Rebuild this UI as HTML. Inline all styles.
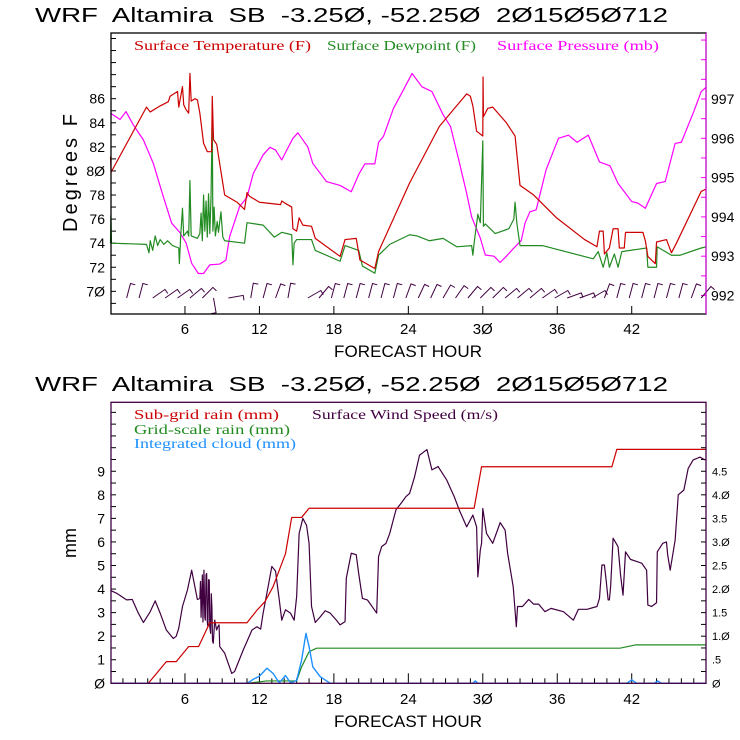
<!DOCTYPE html>
<html><head><meta charset="utf-8"><style>
html,body{margin:0;padding:0;background:#fff}
svg{display:block}
text{font-family:"Liberation Sans",sans-serif}
.lg{font-family:"Liberation Serif",serif;font-size:14px}
.ttl{white-space:pre}
</style></head><body>
<svg id="chart" width="740" height="740" viewBox="0 0 740 740" xmlns="http://www.w3.org/2000/svg" xml:space="preserve">
<rect width="740" height="740" fill="#fff"/>
<text class="ttl" x="35" y="22" font-size="20" textLength="633" lengthAdjust="spacingAndGlyphs">WRF  Altamira  SB  -3.25Ø, -52.25Ø  2Ø15Ø5Ø712</text>
<text class="ttl" x="35" y="391" font-size="20" textLength="633" lengthAdjust="spacingAndGlyphs">WRF  Altamira  SB  -3.25Ø, -52.25Ø  2Ø15Ø5Ø712</text>
<text transform="translate(77,173) rotate(-90)" text-anchor="middle" font-size="20" textLength="118" lengthAdjust="spacing">Degrees F</text>
<text transform="translate(76,543) rotate(-90)" text-anchor="middle" font-size="18">mm</text>
<text x="408" y="357" text-anchor="middle" font-size="17" textLength="148" lengthAdjust="spacing">FORECAST HOUR</text>
<text x="408" y="727" text-anchor="middle" font-size="17" textLength="148" lengthAdjust="spacing">FORECAST HOUR</text>
<text class="lg" x="134" y="50" fill="#cc0000" textLength="177" lengthAdjust="spacingAndGlyphs">Surface Temperature (F)</text>
<text class="lg" x="327" y="50" fill="#228b22" textLength="149" lengthAdjust="spacingAndGlyphs">Surface Dewpoint (F)</text>
<text class="lg" x="497" y="50" fill="#ff00ff" textLength="162" lengthAdjust="spacingAndGlyphs">Surface Pressure (mb)</text>
<text class="lg" x="134" y="419" fill="#cc0000" textLength="145" lengthAdjust="spacingAndGlyphs">Sub-grid rain (mm)</text>
<text class="lg" x="134" y="434" fill="#228b22" textLength="156" lengthAdjust="spacingAndGlyphs">Grid-scale rain (mm)</text>
<text class="lg" x="134" y="448" fill="#1e90ff" textLength="162" lengthAdjust="spacingAndGlyphs">Integrated cloud (mm)</text>
<text class="lg" x="312" y="419" fill="#400040" textLength="186" lengthAdjust="spacingAndGlyphs">Surface Wind Speed (m/s)</text>
<g id="g"></g>
</svg>
<script>
const hourTicks=[6,12,18,24,30,36,42];
const tempTicks=[70,72,74,76,78,80,82,84,86];
const presTicks=[992,993,994,995,996,997];
const mmTicks=[0,1,2,3,4,5,6,7,8,9];
const windTicks=[0,0.5,1.0,1.5,2.0,2.5,3.0,3.5,4.0,4.5];
const windTickLabels=['Ø','.5','1.Ø','1.5','2.Ø','2.5','3.Ø','3.5','4.Ø','4.5'];
const temperature=[[0,81.2],[0.05,79.9],[2.9,85.3],[3.2,84.9],[4.0,85.4],[4.66,85.75],[4.8,86.2],[5.4,86.6],[5.5,85.3],[5.8,87.0],[5.9,85.5],[6.08,85.1],[6.3,84.8],[6.4,88.1],[6.5,85.8],[6.8,86],[7.0,85.9],[7.2,84.8],[7.5,82.3],[7.8,81.6],[8.15,81.6],[8.2,86.2],[8.3,82.6],[8.56,82.2],[8.8,80.6],[9.2,78],[10.2,77.4],[10.8,76.8],[11.0,78.2],[11.2,77.9],[12.0,77.4],[13.7,77.2],[13.8,77.5],[14.1,77.3],[14.6,77.0],[14.7,75.2],[15.0,75],[15.2,76.1],[15.5,75.5],[16.2,75.4],[16.5,74.4],[18.5,72.9],[18.9,74.3],[19.8,74.4],[20.1,72.6],[21.3,71.9],[21.6,73.3],[24.1,79.0],[26.5,83.7],[28.7,86.4],[29.0,86.2],[29.2,85.4],[29.5,83.3],[30.0,82.9],[30.02,87.8],[30.05,84.5],[30.4,85.2],[30.8,85.3],[31.9,84],[32.6,82.9],[33.0,78.8],[34.1,78],[35.95,76.1],[38.2,74.3],[39.2,73.7],[39.4,75],[39.7,75],[39.8,73.1],[40.2,73.6],[40.5,75.2],[40.9,75.2],[41.0,73.6],[41.4,73.6],[41.5,74.9],[42.9,74.9],[43.1,74.2],[43.3,72.9],[43.9,72.3],[44.0,74.1],[44.8,74.3],[45.2,73.2],[45.6,74.0],[47.6,78.3],[48,78.5]];
const dewpoint=[[0,74.0],[0.03,76.3],[0.08,74.0],[2.9,73.9],[3.1,73.2],[3.2,74.2],[3.4,73.4],[3.6,74.6],[3.8,73.8],[4.0,74.3],[4.3,73.9],[4.6,74.2],[5.0,73.8],[5.5,73.6],[5.55,72.3],[5.65,74.5],[5.8,76.9],[5.9,74.6],[6.2,75.0],[6.3,74.6],[6.4,79.2],[6.5,74.6],[7.0,74.4],[7.2,74.8],[7.3,76.5],[7.4,74.2],[7.5,78.0],[7.6,75.0],[7.7,77.5],[7.8,74.5],[7.9,78.1],[8.0,74.8],[8.1,77.8],[8.2,84.6],[8.25,75.0],[8.35,77.0],[8.45,74.6],[8.6,75.8],[8.7,74.9],[8.9,76.6],[9.05,74.5],[9.2,74.2],[10.8,74.0],[11.0,75.7],[12.3,75.5],[13.2,74.5],[13.8,74.9],[14.6,74.7],[14.7,72.2],[14.8,74.0],[15.0,74.3],[16.2,74.3],[16.5,73.4],[18.5,72.5],[18.9,73.8],[20.0,73.4],[20.3,72.1],[21.3,71.5],[21.6,73.0],[22.5,73.9],[24.1,74.7],[24.7,74.6],[25.7,74.2],[26.8,74.4],[27.9,73.7],[29.1,73.8],[29.2,73.0],[29.3,74.0],[29.6,76.4],[29.8,75.7],[30.0,82.5],[30.05,75.4],[30.2,75.6],[31.0,74.8],[32.1,75.2],[32.5,76.0],[32.6,77.4],[32.75,75.6],[33.0,73.8],[34.8,73.8],[38.9,72.7],[39.3,73.3],[39.7,72.0],[40.0,73.2],[40.2,72.0],[40.6,73.1],[40.9,72.0],[41.2,73.3],[43.2,73.6],[43.3,72.0],[44.0,72.0],[44.05,73.7],[45.2,73.0],[45.9,73.0],[47.6,73.6],[48,73.7]];
const pressure=[[0,996.64],[0.77,996.48],[1.25,996.68],[1.84,996.34],[2.65,995.96],[3.45,995.36],[4.26,994.51],[4.93,993.84],[5.6,993.6],[6.1,993.33],[6.54,992.82],[7.08,992.56],[7.5,992.56],[8.0,992.78],[8.8,992.8],[9.3,992.9],[9.6,993.5],[10.4,994.26],[11.0,994.5],[11.5,995.1],[12.3,995.58],[12.85,995.77],[13.3,995.7],[13.8,995.45],[14.2,995.7],[14.7,996.0],[15.1,996.14],[15.9,995.78],[16.3,995.36],[17.4,994.9],[18.5,994.8],[19.4,994.64],[20.0,995.08],[20.5,995.35],[21.3,995.35],[21.6,995.9],[22.0,996.05],[22.8,996.76],[23.6,997.23],[24.3,997.65],[25.1,997.31],[25.9,997.19],[26.8,996.6],[27.4,996.3],[28.0,995.53],[28.7,994.6],[29.1,994.0],[29.8,993.46],[30.2,993.03],[30.9,993.0],[31.4,992.84],[31.9,993.0],[32.6,993.24],[33.1,993.4],[33.4,993.84],[33.8,994.13],[34.3,994.18],[35.1,995.2],[36.1,996.0],[36.9,996.08],[37.6,995.9],[38.5,996.08],[39.4,995.4],[40.25,995.3],[40.9,994.85],[42.0,994.39],[42.5,994.35],[43.1,994.22],[44.0,994.85],[44.7,994.9],[45.5,995.87],[46.0,995.9],[47.0,996.68],[47.6,997.19],[48,997.3]];
const barbHours=[1.3,2.3,3.4,4.4,5.4,6.4,7.4,8.3,9.5,11.3,12.3,13.3,14.3,15.9,16.8,17.8,18.8,19.8,20.8,21.8,22.8,23.8,24.8,25.8,26.8,27.8,28.8,29.8,30.8,31.8,32.8,33.8,34.8,35.8,36.8,37.8,38.8,39.8,40.8,41.8,42.8,43.8,44.8,45.8,46.8,47.6];
const barbAngles=[15,15,55,55,55,50,45,170,80,10,15,20,10,60,40,15,15,15,15,15,15,20,25,25,30,35,40,45,45,50,50,50,55,60,70,70,60,20,15,15,15,15,15,15,20,40];
const subgridRain=[[0,0],[3.05,0],[4.5,0.92],[5.3,0.92],[6.3,1.56],[7.1,1.56],[8.0,2.57],[11.0,2.57],[11.8,3.1],[12.45,3.47],[13.1,4.1],[14.1,5.5],[14.6,7.04],[15.4,7.04],[16.0,7.43],[29.3,7.43],[29.9,9.19],[40.4,9.19],[40.8,9.93],[48,9.93]];
const gridRain=[[0,0],[11,0],[12.6,0.1],[15,0.1],[15.4,0.7],[16,1.34],[16.6,1.49],[41.05,1.49],[42.3,1.63],[48,1.63]];
const cloud=[[0,0],[11,0],[11.5,0.17],[12.0,0.3],[12.6,0.64],[13.1,0.42],[13.6,0.02],[14.1,0.33],[14.5,0.02],[15.0,0.12],[15.4,0.99],[15.75,2.12],[16.0,1.56],[16.3,0.7],[16.9,0.28],[17.7,0],[29.2,0],[29.4,0.1],[29.6,0],[41.6,0],[42.0,0.15],[42.4,0],[43.8,0],[44.1,0.1],[44.4,0],[48,0]];
const windSpeed=[[0,1.97],[0.5,1.91],[1.3,1.77],[1.75,1.78],[2.24,1.49],[2.65,1.29],[3.2,1.52],[3.6,1.75],[4.0,1.49],[4.5,1.13],[5.06,0.95],[5.3,1.0],[5.5,1.17],[5.8,1.63],[6.2,1.98],[6.54,2.4],[6.8,2.05],[7.0,1.78],[7.2,1.8],[7.25,2.16],[7.3,1.4],[7.4,2.3],[7.45,1.3],[7.53,2.4],[7.6,1.4],[7.64,1.34],[7.7,2.3],[7.75,2.33],[7.8,1.3],[7.85,1.2],[7.9,2.2],[7.96,2.19],[8.0,1.2],[8.07,1.06],[8.12,1.9],[8.17,1.63],[8.22,0.9],[8.28,0.85],[8.4,1.34],[8.55,1.13],[8.65,1.2],[8.75,1.24],[8.8,0.78],[9.2,0.64],[9.77,0.21],[10.0,0.25],[10.7,0.71],[11.4,1.13],[11.8,1.2],[12.1,1.15],[12.3,1.49],[12.7,2.05],[13.0,2.48],[13.3,2.38],[13.6,1.77],[13.8,1.34],[14.1,1.56],[14.5,1.49],[14.8,1.34],[15.0,1.84],[15.2,3.18],[15.5,3.5],[15.8,3.35],[16.0,2.97],[16.2,1.63],[16.5,1.29],[16.9,1.41],[17.3,1.54],[17.7,1.49],[18.2,1.34],[18.5,1.24],[18.9,1.31],[19.0,2.23],[19.4,2.76],[19.8,2.73],[20.0,2.33],[20.3,1.8],[20.7,1.77],[21.45,1.49],[21.6,2.69],[21.85,2.9],[22.2,2.97],[22.5,3.18],[23.0,3.68],[23.5,3.85],[23.8,3.96],[24.1,4.03],[24.5,4.38],[24.9,4.84],[25.5,4.96],[25.9,4.53],[26.4,4.6],[27.1,4.31],[27.7,3.96],[28.1,3.68],[28.7,3.32],[29.2,3.57],[29.5,3.32],[29.6,2.26],[29.8,2.83],[29.9,2.97],[30.0,3.71],[30.3,3.18],[30.8,2.97],[31.4,3.41],[31.8,3.25],[32.0,2.76],[32.45,2.05],[32.7,1.2],[32.8,1.63],[33.2,1.63],[33.7,1.78],[34.1,1.68],[34.5,1.68],[35.0,1.52],[35.5,1.59],[36.5,1.52],[37.3,1.34],[37.7,1.57],[38.4,1.57],[39.2,1.63],[39.4,1.8],[39.6,2.51],[39.8,2.51],[39.95,2.16],[40.1,1.77],[40.2,1.77],[40.3,2.05],[40.5,3.08],[40.9,2.9],[41.1,2.3],[41.3,1.87],[41.5,2.79],[41.9,2.63],[42.8,2.55],[43.2,2.4],[43.3,1.66],[43.6,1.63],[44.0,1.71],[44.06,2.79],[44.5,2.97],[44.8,3.0],[44.9,2.72],[45.1,2.4],[45.5,3.04],[45.75,4.0],[46.2,4.1],[46.55,4.56],[46.95,4.74],[47.5,4.8],[47.9,4.74]];

const NS='http://www.w3.org/2000/svg';
const G=document.getElementById('g');
const X0=111,X1=706;
const xs=h=>110.5+h*12.41;
const yT=v=>98.7+(86-v)*12.04;
const yP=v=>99+(997-v)*39.3;
const B0=683.3;
const yM=v=>B0-v*23.56;
const yW=v=>B0-v*47.12;
function el(tag,attrs){const e=document.createElementNS(NS,tag);for(const k in attrs)e.setAttribute(k,attrs[k]);G.appendChild(e);return e;}
function series(data,yf,color,name,w){
  const p=el('polyline',{points:data.map(d=>xs(d[0]).toFixed(2)+','+yf(d[1]).toFixed(2)).join(' '),fill:'none',stroke:color,'stroke-width':w||1.2,'stroke-linejoin':'round'});
  
  
}
function txt(x,y,s,anchor,size,name,fill){const t=el('text',{x:x,y:y,'text-anchor':anchor,'font-size':size,fill:fill||'#000'});t.textContent=s;
  
  }
function line(x1,y1,x2,y2,c,name){const l=el('line',{x1:x1,y1:y1,x2:x2,y2:y2,stroke:c,'stroke-width':1});
  
  }

// ---------- top panel ----------
const TT=33,TB=314;
for(let v=69;v<=91;v++){line(X0,yT(v),X0+5,yT(v),'#000','y-tick');}
tempTicks.forEach(v=>txt(105,yT(v)+5,String(v).replace(/0/g,'Ø'),'end',14,'y-tick-label'));
for(let v=991.5;v<=998.5;v+=0.5){if(yP(v)>TT&&yP(v)<TB)line(X1-5,yP(v),X1,yP(v),'#ff00ff','y2-tick');}
presTicks.forEach(v=>txt(711,yP(v)+5,String(v),'start',14,'y2-tick-label'));
hourTicks.forEach(h=>{line(xs(h),TB,xs(h),TB-8,'#000','x-tick');txt(xs(h),334,String(h).replace(/0/g,'Ø'),'middle',15,'x-tick-label');});
series(pressure,yP,'#ff00ff','pressure-line');
series(dewpoint,yT,'#228b22','dewpoint-line');
series(temperature,yT,'#cc0000','temperature-line');
barbHours.forEach((h,i)=>{
  const a=barbAngles[i]*Math.PI/180;const bx=xs(h),by=298,L=15;
  const tx=bx+Math.sin(a)*L,ty=by-Math.cos(a)*L;
  const p=el('polyline',{points:`${bx},${by} ${tx.toFixed(1)},${ty.toFixed(1)} ${(tx+Math.cos(a)*5).toFixed(1)},${(ty+Math.sin(a)*5).toFixed(1)}`,fill:'none',stroke:'#400040','stroke-width':1});
  
  
});
const r1=el('rect',{x:X0,y:TT,width:X1-X0,height:TB-TT,fill:'none',stroke:'#000','stroke-width':1.3});


line(X1,TT,X1,TB,'#ff00ff','right-axis-line');

// ---------- bottom panel ----------
const BT=402.3;
for(let v=0;v<=11.9;v+=0.5){line(X0,yM(v),X0+5,yM(v),'#000','y-tick');}
mmTicks.forEach(v=>txt(105,yM(v)+5,String(v).replace(/0/g,'Ø'),'end',14,'y-tick-label'));
for(let v=0;v<=5.9;v+=0.25){line(X1-5,yW(v),X1,yW(v),'#000','y2-tick');}
windTicks.forEach((v,i)=>txt(712,yW(v)+4,windTickLabels[i],'start',11,'y2-tick-label'));
for(let h=1;h<48;h++){line(xs(h),B0,xs(h),B0-(h%6===0?10:5),'#000','x-tick');}
hourTicks.forEach(h=>txt(xs(h),704,String(h).replace(/0/g,'Ø'),'middle',15,'x-tick-label'));
series(windSpeed,yW,'#400040','wind-speed-line');
series(gridRain,yM,'#228b22','grid-rain-line');
series(subgridRain,yM,'#cc0000','subgrid-rain-line');
series(cloud,yM,'#1e90ff','cloud-line',1.4);
const r2=el('rect',{x:X0,y:BT,width:X1-X0,height:B0-BT,fill:'none',stroke:'#400040','stroke-width':1.3});


</script>
</body></html>
